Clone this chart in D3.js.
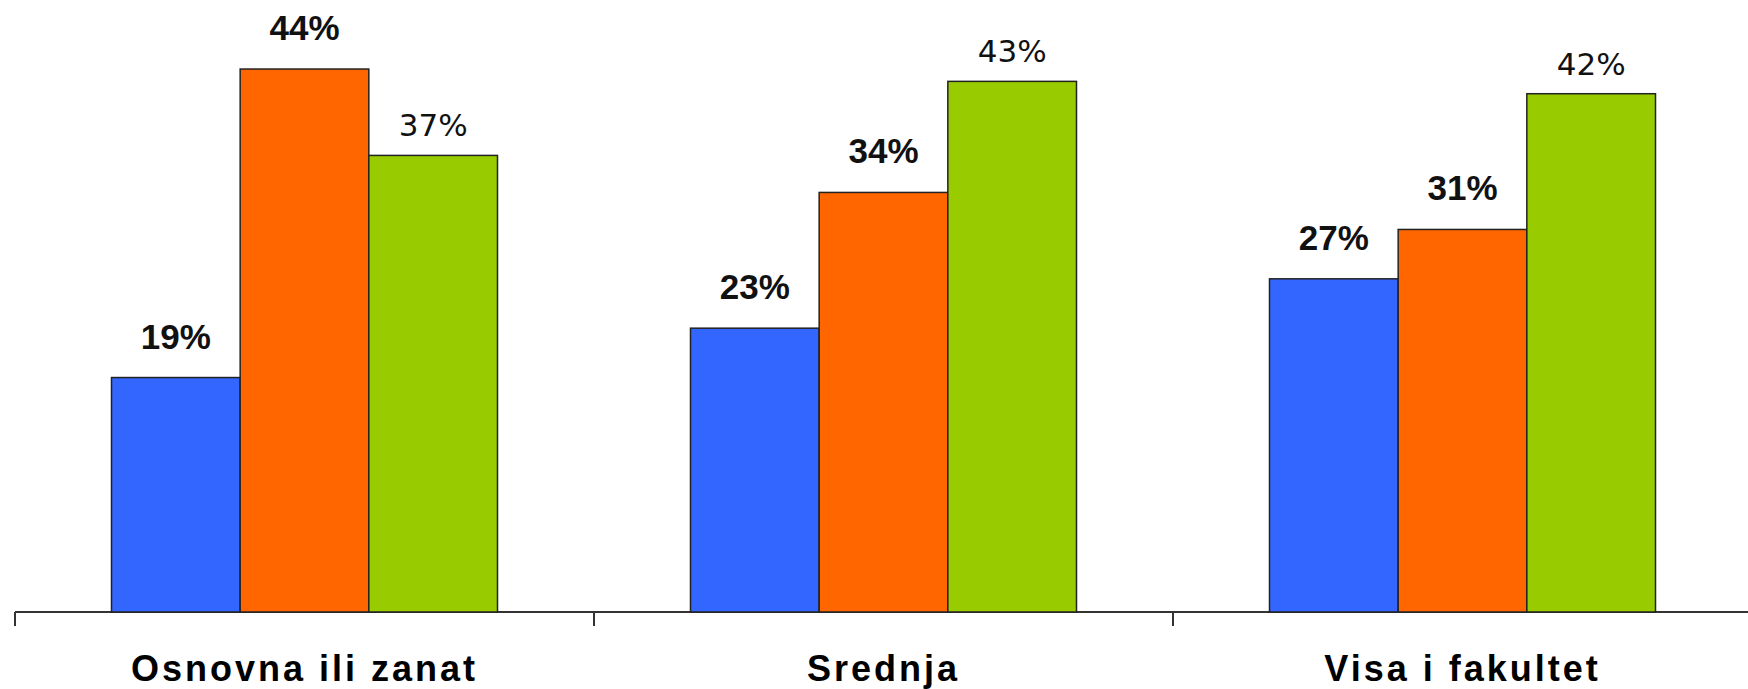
<!DOCTYPE html>
<html>
<head>
<meta charset="utf-8">
<script src="https://cdn.jsdelivr.net/npm/d3@7"></script>
<style>
  body { margin: 0; background: #fff; }
  svg { display: block; }
</style>
</head>
<body>
<svg id="chart" width="1748" height="689"></svg>
<script>
var categories = ["Osnovna ili zanat", "Srednja", "Visa i fakultet"];
var series = ["s1", "s2", "s3"];
var values = [
    [19, 44, 37],
    [23, 34, 43],
    [27, 31, 42]
];
var colors = ["#3366ff", "#ff6600", "#99cc00"];

var svg = d3.select("#chart"),
    baseY = 612;

var x0 = d3.scaleBand().domain(categories).range([15, 1752])
    .paddingInner(1 / 3).paddingOuter(1 / 6);
var x1 = d3.scaleBand().domain(series).range([0, x0.bandwidth()]);
var y = d3.scaleLinear().domain([0, 50]).range([baseY, -5]);

// axis line + ticks between groups
var axis = svg.append("g").attr("class", "axis");
axis.append("line")
    .attr("x1", 15).attr("x2", 1748)
    .attr("y1", baseY).attr("y2", baseY)
    .attr("stroke", "#333").attr("stroke-width", 2);
axis.selectAll(".tick")
    .data(d3.range(categories.length + 1))
    .enter().append("line")
    .attr("class", "tick")
    .attr("x1", function(i) { return x0.range()[0] + i * x0.step(); })
    .attr("x2", function(i) { return x0.range()[0] + i * x0.step(); })
    .attr("y1", baseY).attr("y2", baseY + 14)
    .attr("stroke", "#333").attr("stroke-width", 2);

var groups = svg.selectAll(".group")
    .data(categories)
    .enter().append("g")
    .attr("class", "group")
    .attr("transform", function(d) { return "translate(" + x0(d) + ",0)"; });

groups.selectAll("rect")
    .data(function(d, i) { return values[i].map(function(v, j) { return {s: series[j], v: v, j: j}; }); })
    .enter().append("rect")
    .attr("x", function(d) { return x1(d.s); })
    .attr("width", x1.bandwidth())
    .attr("y", function(d) { return y(d.v); })
    .attr("height", function(d) { return baseY - y(d.v); })
    .attr("fill", function(d) { return colors[d.j]; })
    .attr("stroke", "#222")
    .attr("stroke-width", 1.5);

groups.selectAll(".val")
    .data(function(d, i) { return values[i].map(function(v, j) { return {s: series[j], v: v, j: j}; }); })
    .enter().append("text")
    .attr("class", "val")
    .attr("x", function(d) { return x1(d.s) + x1.bandwidth() / 2; })
    .attr("y", function(d) { return y(d.v) - (d.j == 2 ? 19 : 29); })
    .attr("text-anchor", "middle")
    .attr("fill", "#111")
    .style("font-family", function(d) { return d.j == 2 ? "'DejaVu Sans', Verdana, sans-serif" : "'Liberation Sans', Arial, sans-serif"; })
    .style("font-weight", function(d) { return d.j == 2 ? "normal" : "bold"; })
    .style("font-size", function(d) { return d.j == 2 ? "31px" : "35px"; })
    .text(function(d) { return d.v + "%"; });

svg.selectAll(".cat")
    .data(categories)
    .enter().append("text")
    .attr("class", "cat")
    .attr("x", function(d) { return x0(d) + x0.bandwidth() / 2; })
    .attr("y", 681)
    .attr("text-anchor", "middle")
    .attr("fill", "#000")
    .style("font-family", "'Liberation Sans', Arial, sans-serif")
    .style("font-weight", "bold")
    .style("font-size", "36px")
    .style("letter-spacing", "3px")
    .text(function(d) { return d; });
</script>
</body>
</html>
